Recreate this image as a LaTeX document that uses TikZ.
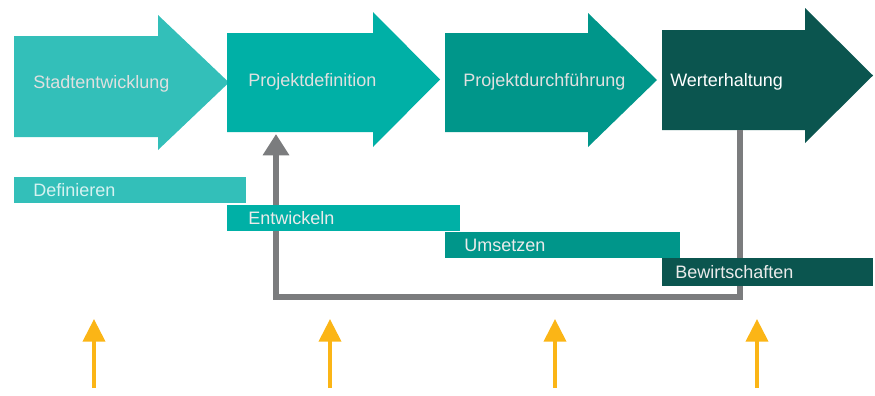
\documentclass[tikz,border=0pt]{standalone}
\usepackage{fontspec}
\setmainfont{Liberation Sans}
\usetikzlibrary{arrows.meta}
\definecolor{phaseA}{HTML}{33BFB9}
\definecolor{phaseB}{HTML}{00B0A6}
\definecolor{phaseC}{HTML}{00968A}
\definecolor{phaseD}{HTML}{0B554F}
\definecolor{loopc}{HTML}{7B7C7E}
\definecolor{impulse}{HTML}{FBB516}
\tikzset{
  phaselabel/.style={anchor=west, inner sep=0pt, text=white!88!black,
              font=\fontsize{13.5}{16}\selectfont},
  barlabel/.style={anchor=west, inner sep=0pt, text=white!92!black,
              font=\fontsize{13.5}{16}\selectfont},
  loopback/.style={draw=loopc, line width=4.5pt, miter limit=10,
              -{Triangle[width=19pt,length=16pt]}},
  impulsearrow/.style={draw=impulse, line width=3pt,
              -{Triangle[width=16.5pt,length=17pt]}},
}

\begin{document}
\begin{tikzpicture}[x=0.75pt,y=-0.75pt]
\useasboundingbox (0,0) rectangle (875,396);
\foreach \xa/\xb/\xc/\yt/\yb/\ht/\hb/\col in
  {14/158/229/36/137/15/150/phaseA, 227/373/440/33/132/12/147/phaseB,
   445/588/657/33/132/13/147/phaseC, 662/805/873/30/130/8/143/phaseD}
  \fill[\col] (\xa,\yt) -- (\xb,\yt) -- (\xb,\ht) -- (\xc,{(\ht+\hb)/2})
    -- (\xb,\hb) -- (\xb,\yb) -- (\xa,\yb) -- cycle;
\node[phaselabel] (stadt) at (33,84) {Stadtentwicklung};
\node[phaselabel] (pdef) at (248,82) {Projektdefinition};
\node[phaselabel] (pdurch) at (463,82) {Projektdurchführung};
\node[phaselabel, text=white] (werth) at (670,82) {Werterhaltung};

\coordinate (wstart) at (740,130);
\coordinate (wcorner) at (740,297);
\coordinate (pend) at (276,134);
\draw[loopback] (wstart) -- (wcorner) -| (pend);

\fill[phaseA] (14,177) rectangle (246,203);
\fill[phaseB] (227,205) rectangle (460,231);
\fill[phaseC] (445,232) rectangle (680,258);
\fill[phaseD] (662,258) rectangle (873,286);
\node[barlabel, text=white!80!phaseA] (defin) at (33,190) {Definieren};
\node[barlabel] (entw) at (248,218) {Entwickeln};
\node[barlabel] (umset) at (464,245) {Umsetzen};
\node[barlabel] (bewirt) at (675,272) {Bewirtschaften};

\foreach \x [count=\i] in {94,330,555,757} {
  \coordinate (imp\i) at (\x,388);
  \coordinate (tip\i) at (\x,319);
  \draw[impulsearrow] (imp\i) -- (tip\i);
}
\end{tikzpicture}
\end{document}
